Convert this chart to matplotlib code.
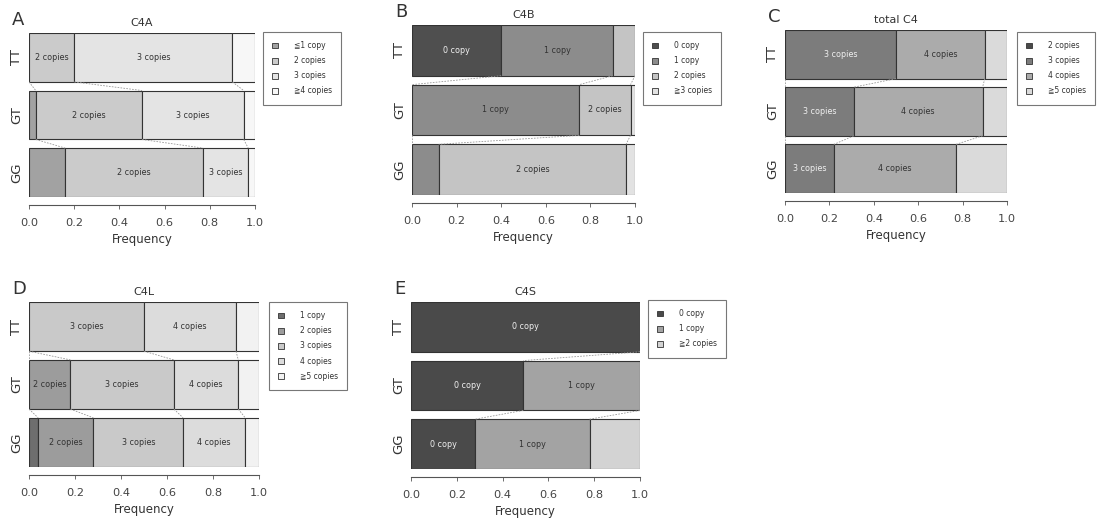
import matplotlib
matplotlib.use("Agg")
import matplotlib.pyplot as plt
import numpy as np

genotypes = ["TT", "GT", "GG"]

# Panel A: C4A
a_cats = ["≦1 copy", "2 copies", "3 copies", "≧4 copies"]
a_short = ["1 copy", "2 copies", "3 copies", "4 copies"]
a_vals = [[0.00, 0.20, 0.70, 0.10],
          [0.03, 0.47, 0.45, 0.05],
          [0.16, 0.61, 0.20, 0.03]]

# Panel B: C4B
b_cats = ["0 copy", "1 copy", "2 copies", "≧3 copies"]
b_short = ["0 copy", "1 copy", "2 copies", "3 copies"]
b_vals = [[0.40, 0.50, 0.10, 0.00],
          [0.00, 0.75, 0.23, 0.02],
          [0.00, 0.12, 0.84, 0.04]]

# Panel C: total C4
c_cats = ["2 copies", "3 copies", "4 copies", "≧5 copies"]
c_short = ["2 copies", "3 copies", "4 copies", "5 copies"]
c_vals = [[0.00, 0.50, 0.40, 0.10],
          [0.00, 0.31, 0.58, 0.11],
          [0.00, 0.22, 0.55, 0.23]]

# Panel D: C4L
d_cats = ["1 copy", "2 copies", "3 copies", "4 copies", "≧5 copies"]
d_short = ["1 copy", "2 copies", "3 copies", "4 copies", "5 copies"]
d_vals = [[0.00, 0.00, 0.50, 0.40, 0.10],
          [0.00, 0.18, 0.45, 0.28, 0.09],
          [0.04, 0.24, 0.39, 0.27, 0.06]]

# Panel E: C4S
e_cats = ["0 copy", "1 copy", "≧2 copies"]
e_short = ["0 copy", "1 copy", "2 copies"]
e_vals = [[1.00, 0.00, 0.00],
          [0.49, 0.51, 0.00],
          [0.28, 0.50, 0.22]]

panels = [
    dict(letter="A", title="C4A", cats=a_cats, short=a_short, vals=a_vals,
         colors=["#a2a2a2", "#cbcbcb", "#e4e4e4", "#f7f7f7"],
         ax=[29, 33, 255, 197], leg=(263, 32)),
    dict(letter="B", title="C4B", cats=b_cats, short=b_short, vals=b_vals,
         colors=["#4f4f4f", "#8c8c8c", "#c4c4c4", "#e2e2e2"],
         ax=[412, 25, 635, 195], leg=(643, 32)),
    dict(letter="C", title="total C4", cats=c_cats, short=c_short, vals=c_vals,
         colors=["#4a4a4a", "#7c7c7c", "#ababab", "#dadada"],
         ax=[785, 30, 1007, 193], leg=(1017, 32)),
    dict(letter="D", title="C4L", cats=d_cats, short=d_short, vals=d_vals,
         colors=["#6e6e6e", "#9c9c9c", "#c9c9c9", "#dcdcdc", "#f2f2f2"],
         ax=[29, 302, 259, 467], leg=(269, 302)),
    dict(letter="E", title="C4S", cats=e_cats, short=e_short, vals=e_vals,
         colors=["#4a4a4a", "#a3a3a3", "#d3d3d3"],
         ax=[411, 302, 640, 469], leg=(648, 300)),
]

W, H = 1097, 525
fig = plt.figure(figsize=(W / 100, H / 100), dpi=100)
plt.rcParams['font.family'] = ['DejaVu Sans']

bh = 0.85
for p in panels:
    x0, y0, x1, y1 = p["ax"]
    ax = fig.add_axes([x0 / W, 1 - y1 / H, (x1 - x0) / W, (y1 - y0) / H])
    vals = np.array(p["vals"])
    n = vals.shape[1]
    handles = []
    for i, g in enumerate(genotypes):
        left = 0.0
        for j in range(n):
            w = vals[i, j]
            if w > 0:
                ax.barh(i, w, left=left, height=bh, color=p["colors"][j],
                        edgecolor="#333333", linewidth=0.8)
                if j < n - 1 and w >= 0.17:
                    c = p["colors"][j]
                    lum = int(c[1:3], 16) / 255
                    tc = "#f0f0f0" if lum < 0.5 else "#333333"
                    ax.text(left + w / 2, i, p["short"][j], ha="center", va="center",
                            fontsize=5.8, color=tc)
            left += w
    # dashed connectors between consecutive bars
    cum = np.cumsum(vals, axis=1)
    for i in range(len(genotypes) - 1):
        for j in range(n - 1):
            ax.plot([cum[i, j], cum[i + 1, j]], [i + bh / 2, i + 1 - bh / 2],
                    ls=(0, (2, 1.5)), color="#999999", lw=0.6)
    for j in range(n):
        handles.append(plt.Rectangle((0, 0), 1, 1, facecolor=p["colors"][j],
                                     edgecolor="#333333", linewidth=0.6))
    ax.set_xlim(0, 1)
    ax.set_ylim(2 + bh / 2, -bh / 2)
    ax.set_yticks(range(3))
    ax.set_yticklabels(genotypes, rotation=90, va="center", fontsize=9.5,
                       color="#333333")
    ax.tick_params(axis="y", length=0, pad=4)
    ticks = np.arange(0, 1.01, 0.2)
    ax.set_xticks(ticks)
    ax.set_xticklabels([f"{t:.1f}" for t in ticks])
    ax.tick_params(axis="x", length=3, width=0.6, pad=6, color="#555555",
                   labelsize=8.2, labelcolor="#444444")
    for s in ["top", "right", "left"]:
        ax.spines[s].set_visible(False)
    ax.spines["bottom"].set_position(("outward", 6))
    ax.spines["bottom"].set_bounds(0, 1)
    ax.spines["bottom"].set_color("#555555")
    ax.set_xlabel("Frequency", fontsize=8.5, color="#333333", labelpad=4)
    ax.set_title(p["title"], fontsize=8, color="#333333", pad=5)
    lx, ly = p["leg"]
    leg = fig.legend(handles, p["cats"], loc="upper left",
                     bbox_to_anchor=(lx / W, 1 - ly / H), fontsize=5.5,
                     frameon=True, fancybox=False, edgecolor="#555555",
                     handlelength=0.8, handleheight=0.8, handletextpad=2.0,
                     borderpad=1.2, labelspacing=0.8, borderaxespad=0)
    leg.get_frame().set_linewidth(0.8)
    for t in leg.get_texts():
        t.set_color("#333333")
    # panel letter
    fig.text((x0 - 17) / W, 1 - (y0 - 13) / H, p["letter"], fontsize=13,
             color="#333333", va="center", ha="left")

fig.savefig("out.png", dpi=100, facecolor="white")
